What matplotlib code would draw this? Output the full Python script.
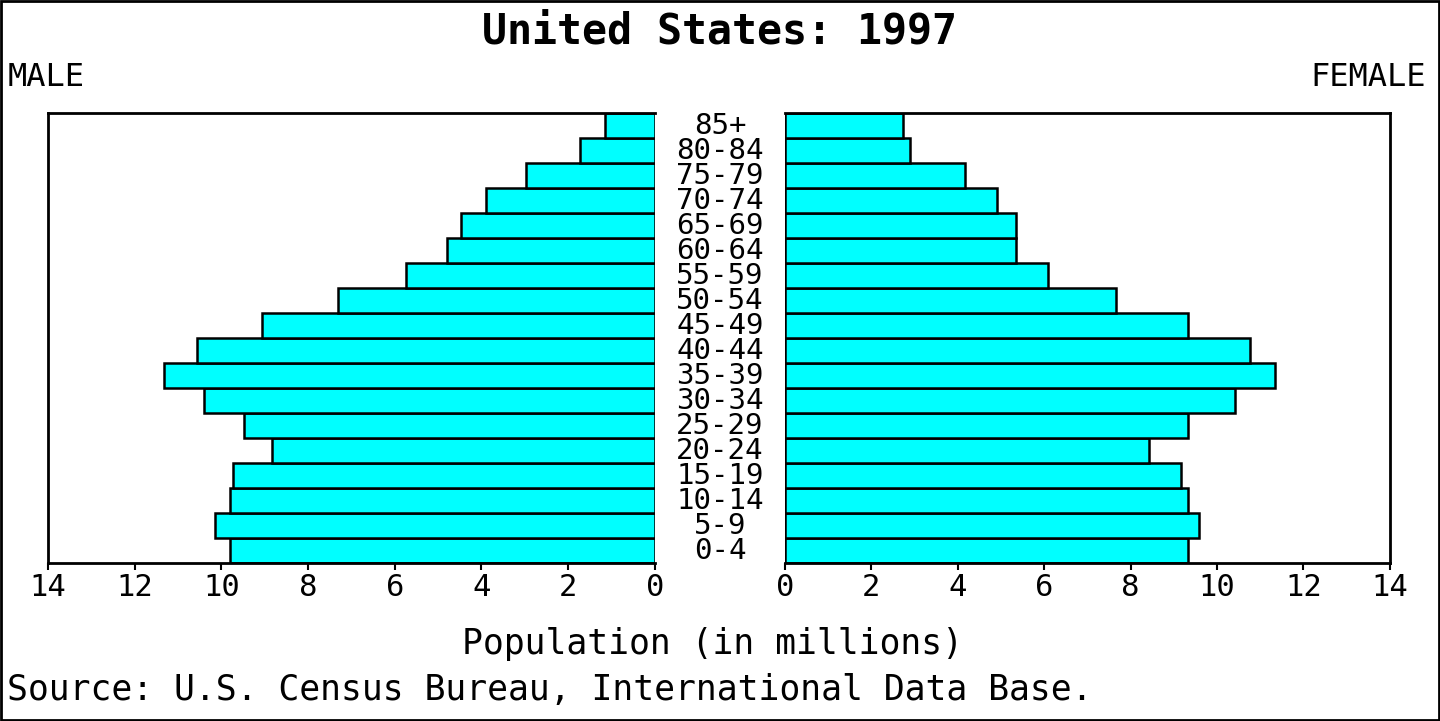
import matplotlib
matplotlib.use("Agg")
import matplotlib.pyplot as plt
from matplotlib.patches import Rectangle

ages = ["0-4","5-9","10-14","15-19","20-24","25-29","30-34","35-39","40-44","45-49",
        "50-54","55-59","60-64","65-69","70-74","75-79","80-84","85+"]
male = [9.8,10.15,9.8,9.73,8.83,9.48,10.4,11.32,10.56,9.06,7.31,5.74,4.8,4.47,3.9,2.97,1.73,1.15]
female = [9.33,9.58,9.33,9.17,8.43,9.33,10.42,11.34,10.76,9.33,7.66,6.09,5.35,5.35,4.91,4.17,2.89,2.73]
ticks = [0,2,4,6,8,10,12,14]

plt.rcParams['font.family'] = ['DejaVu Sans Mono']
fig = plt.figure(figsize=(14.4,7.21), dpi=100)
fig.patches.append(Rectangle((0.001,0.001),0.998,0.997,transform=fig.transFigure,fill=False,lw=2,ec='black'))

axL = fig.add_axes([0.0333,0.219,0.4215,0.624])
axR = fig.add_axes([0.5451,0.219,0.4201,0.624])
y = list(range(len(ages)))
axL.barh(y, male, height=1.0, color='#00ffff', edgecolor='black', lw=1.8)
axR.barh(y, female, height=1.0, color='#00ffff', edgecolor='black', lw=1.8)
for ax in (axL, axR):
    ax.set_ylim(-0.5, 17.5)
    ax.set_yticks([])
    ax.set_xticks(ticks)
    ax.set_xticklabels([str(t) for t in ticks], fontsize=22)
    ax.tick_params(axis='x', length=5, width=1.5, pad=2)
    for s in ax.spines.values():
        s.set_linewidth(2)
axL.set_xlim(14, 0)
axR.set_xlim(0, 14)
axL.spines['right'].set_visible(False)
axR.spines['left'].set_visible(False)

for i, a in enumerate(ages):
    fig.text(0.5, 0.219 + 0.624*(i+0.5)/18, a, ha='center', va='center', fontsize=21)

fig.text(0.5, 0.957, "United States: 1997", ha='center', va='center', fontsize=30, fontweight='bold')
fig.text(0.005, 0.892, "MALE", ha='left', va='center', fontsize=23)
fig.text(0.99, 0.892, "FEMALE", ha='right', va='center', fontsize=23)
fig.text(0.495, 0.107, "Population (in millions)", ha='center', va='center', fontsize=25)
fig.text(0.005, 0.043, "Source: U.S. Census Bureau, International Data Base.", ha='left', va='center', fontsize=25)
fig.savefig("out.png", dpi=100)
